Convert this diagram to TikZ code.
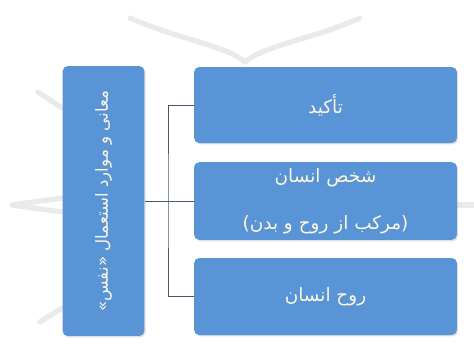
\documentclass[tikz,border=0pt]{standalone}
\usepackage{fontspec}
\newfontfamily\farsi[Script=Arabic]{DejaVu Sans}
\TeXXeTstate=1
\usetikzlibrary{shadows}

\definecolor{boxblue}{RGB}{88,148,214}
\definecolor{boxtext}{RGB}{252,247,228}
\definecolor{linkgray}{RGB}{70,88,112}
\definecolor{patgray}{RGB}{234,234,234}

\tikzset{
  ibox/.style={draw=none, fill=boxblue, rounded corners=3pt,
    text=boxtext, font=\farsi\fontsize{10.5}{12}\selectfont, align=center,
    drop shadow={opacity=0.25, shadow xshift=0.6pt, shadow yshift=-0.8pt}},
  link/.style={draw=linkgray, line width=0.5pt},
  pat/.style={draw=patgray, line width=3pt, line cap=round}
}

\begin{document}
\begin{tikzpicture}[x=0.02cm, y=-0.02cm]
  \useasboundingbox (0,0) rectangle (474,343);
  % faint background ornament
  \draw[pat] (130,18) .. controls (180,40) and (225,45) .. (245,62);
  \draw[pat] (360,18) .. controls (310,40) and (265,45) .. (245,62);
  \draw[pat] (12,205) -- (62,198) (12,205) -- (62,212);
  \draw[pat] (38,92) -- (62,108) (40,322) -- (62,308);
  \draw[pat] (457,205) -- (474,205);
  % boxes
  \node[ibox, rotate=90, minimum width=5.4cm, minimum height=1.64cm,
    font=\farsi\fontsize{9.5}{11}\selectfont] (lbox) at (103.5,201)
    {\beginR معانی و موارد استعمال «نفس»\endR};
  \node[ibox, minimum width=5.26cm, minimum height=1.52cm] (box1) at (325.5,105)
    {\beginR تأکید\endR};
  \node[ibox, minimum width=5.26cm, minimum height=1.54cm] (box2) at (325.5,201)
    {\beginR شخص انسان\endR\\[15pt]\beginR (مرکب از روح و بدن)\endR};
  \node[ibox, minimum width=5.26cm, minimum height=1.54cm] (box3) at (325.5,296.5)
    {\beginR روح انسان\endR};
  % connectors
  \coordinate (bus) at (168,201);
  \draw[link] (lbox.south) -- (box2.west);
  \draw[link] (box1.west) -| (bus) |- (box3.west);
\end{tikzpicture}
\end{document}
